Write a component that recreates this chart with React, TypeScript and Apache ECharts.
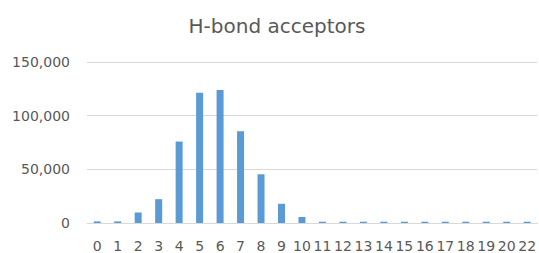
import React, { useEffect, useRef } from "react";
import * as echarts from "echarts";

const categories = ["0","1","2","3","4","5","6","7","8","9","10","11","12","13","14","15","16","17","18","19","20","22"];
const values = [1500, 1500, 9800, 22200, 75900, 121300, 124000, 85500, 45400, 17900, 5600, 1200, 1200, 1200, 1200, 1200, 1200, 1200, 1200, 1200, 1200, 1200];
const yTicks = [0, 50000, 100000, 150000];

export default function App() {
  const ref = useRef<HTMLDivElement>(null);
  useEffect(() => {
    const chart = echarts.init(ref.current!, null, { renderer: "svg" });
    chart.setOption({
      animation: false,
      title: {
        text: "H-bond acceptors",
        left: 272,
        top: 11,
        textAlign: "center",
        textStyle: { fontFamily: "DejaVu Sans", fontSize: 20, fontWeight: "normal", color: "#595959" },
      },
      grid: { left: 87, right: -3, top: 62, bottom: 29, containLabel: false },
      xAxis: {
        type: "category",
        data: categories,
        axisLine: { lineStyle: { color: "#D9D9D9" } },
        axisTick: { show: false },
        axisLabel: { interval: 0, color: "#595959", fontFamily: "DejaVu Sans", fontSize: 14, margin: 16 },
      },
      yAxis: {
        type: "value",
        min: yTicks[0],
        max: yTicks[yTicks.length - 1],
        interval: 50000,
        axisLine: { show: false },
        axisTick: { show: false },
        splitLine: { lineStyle: { color: "#D9D9D9" } },
        axisLabel: {
          color: "#595959",
          fontFamily: "DejaVu Sans",
          fontSize: 14,
          margin: 17,
          formatter: (v: number) => v.toLocaleString("en-US"),
        },
      },
      series: [
        {
          type: "bar",
          data: values,
          barWidth: 7,
          itemStyle: { color: "#5B9BD5" },
        },
      ],
    });
    return () => chart.dispose();
  }, []);
  return <div ref={ref} style={{ width: 539, height: 253, position: "absolute", left: 0, top: 0 }} />;
}
